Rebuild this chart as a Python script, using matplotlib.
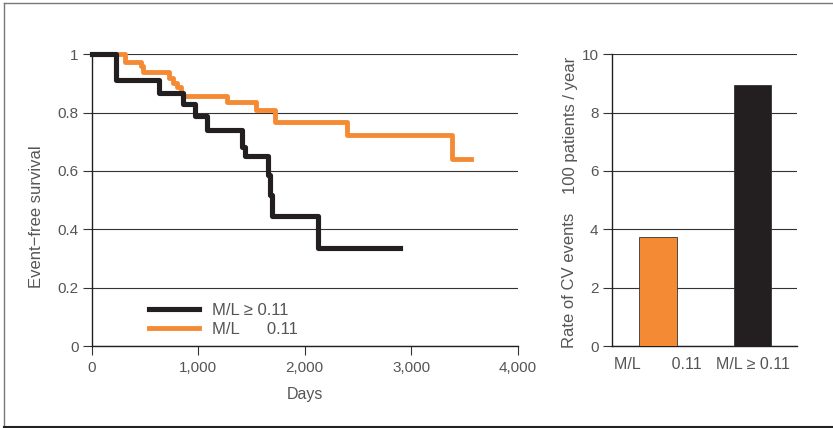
import numpy as np
import matplotlib
matplotlib.use('Agg')
import matplotlib.pyplot as plt
from matplotlib.ticker import FuncFormatter

plt.rcParams['font.family'] = ['Liberation Sans', 'DejaVu Sans']
plt.rcParams['font.size'] = 11

# Kaplan-Meier steps
black_days = [0, 225, 632, 861, 970, 1080, 1408, 1440, 1653, 1675, 1690, 2122, 2895]
black_surv = [1, 0.912, 0.869, 0.829, 0.789, 0.741, 0.683, 0.653, 0.586, 0.518, 0.446, 0.336, 0.336]
orange_days = [0, 313, 460, 485, 729, 760, 798, 839, 860, 1268, 1543, 1722, 2394, 3387, 3562]
orange_surv = [1, 0.973, 0.961, 0.939, 0.918, 0.903, 0.889, 0.866, 0.857, 0.837, 0.808, 0.769, 0.723, 0.641, 0.641]
legend_labels = ['M/L \u2265 0.11', 'M/L      0.11']

# bar chart
bar_labels = ['M/L       0.11', 'M/L \u2265 0.11']
bar_values = [3.75, 8.95]

black = '#231f20'
orange = '#f58a35'
txt = '#555555'
grid = '#333333'

fig = plt.figure(figsize=(8.33, 4.28), dpi=100, facecolor='white')

# frame around the figure (top, left, bottom)
fig.add_artist(plt.Line2D([4/833, 4/833], [1-3/428, 1-426/428], color='#777777', lw=1.0,
                          transform=fig.transFigure))
fig.add_artist(plt.Line2D([4/833, 1], [1-3/428, 1-3/428], color='#777777', lw=1.0,
                          transform=fig.transFigure))
fig.add_artist(plt.Line2D([4/833, 1], [1-426.5/428, 1-426.5/428], color='#222222', lw=1.5,
                          transform=fig.transFigure))

ax = fig.add_axes([91.7/833, 1-346/428, 426/833, 291.7/428])
ax.step(orange_days, orange_surv, where='post', color=orange, lw=3.5, clip_on=False, zorder=3,
        label=legend_labels[1])
ax.step(black_days, black_surv, where='post', color=black, lw=3.7, clip_on=False, zorder=3,
        label=legend_labels[0])
ax.set_xlim(0, 4000)
ax.set_ylim(0, 1)
ax.set_xticks([0, 1000, 2000, 3000, 4000])
ax.set_yticks([0, 0.2, 0.4, 0.6, 0.8, 1.0])
ax.xaxis.set_major_formatter(FuncFormatter(lambda v, p: f'{int(v):,}'))
ax.yaxis.set_major_formatter(FuncFormatter(lambda v, p: '0' if v == 0 else ('1' if v == 1 else f'{v:.1f}')))
ax.grid(axis='y', color=grid, lw=0.8)
ax.set_axisbelow(True)
for s in ['top', 'right']:
    ax.spines[s].set_visible(False)
for s in ['left', 'bottom']:
    ax.spines[s].set_color(black)
    ax.spines[s].set_linewidth(1.0)
ax.tick_params(axis='both', direction='out', length=6.5, width=0.8, color=grid, labelcolor=txt,
               labelsize=11)
ax.tick_params(axis='y', pad=3.0)
ax.tick_params(axis='x', pad=4.0)
ax.set_xlabel('Days', color=txt, fontsize=11.5, labelpad=9)
ax.set_ylabel('Event\u2212free survival', color=txt, fontsize=12)
ax.yaxis.set_label_coords(-0.112, 0.445)
h, l = ax.get_legend_handles_labels()
leg = ax.legend(h[::-1], l[::-1], loc='upper left', bbox_to_anchor=(0.1, 0.2), frameon=False,
                handlelength=3.0, handletextpad=0.75, labelspacing=0.25, fontsize=12)
for t in leg.get_texts():
    t.set_color(txt)

# rate of CV events
ax2 = fig.add_axes([611.7/833, 1-346/428, 185/833, 291.7/428])
x = np.arange(len(bar_values))
ax2.bar(x, bar_values, width=0.395, color=[orange, black], edgecolor='#333333', linewidth=0.6,
        zorder=3)
ax2.set_xlim(-0.489, 1.465)
ax2.set_ylim(0, 10)
ax2.set_yticks([0, 2, 4, 6, 8, 10])
ax2.set_xticks(x)
ax2.set_xticklabels(bar_labels)
ax2.grid(axis='y', color=grid, lw=0.8)
ax2.set_axisbelow(True)
for s in ['top', 'right']:
    ax2.spines[s].set_visible(False)
for s in ['left', 'bottom']:
    ax2.spines[s].set_color(black)
    ax2.spines[s].set_linewidth(1.0)
ax2.tick_params(axis='y', direction='out', length=6.5, width=0.8, color=grid, labelcolor=txt,
                labelsize=11, pad=3.0)
ax2.tick_params(axis='x', length=0, labelcolor=txt, labelsize=11.5, pad=8)
fig.text(570/833, 1-280/428, 'Rate of CV events', rotation=90, ha='center', va='center',
         color=txt, fontsize=12)
fig.text(570/833, 1-125/428, '100 patients / year', rotation=90, ha='center', va='center',
         color=txt, fontsize=12)

fig.savefig('out.png', dpi=100, facecolor='white')
